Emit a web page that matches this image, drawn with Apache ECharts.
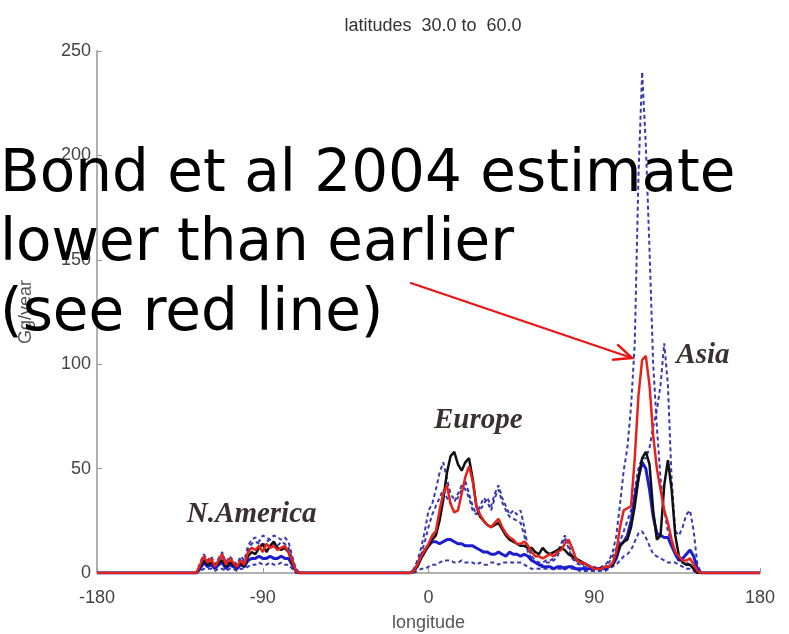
<!DOCTYPE html>
<html><head><meta charset="utf-8">
<script src="https://cdn.jsdelivr.net/npm/echarts@6/dist/echarts.min.js"></script>
<style>html,body{margin:0;padding:0;background:#fff}#c{width:789px;height:634px}</style>
</head><body><div id="c"></div>
<script>
// longitudes sampled (degrees)
const lonNA = [-128,-126,-124,-122,-120,-118,-116,-114,-112,-110,-108,-106,-104,-102,-100,-98,-96,-94,-92,-90,-88,-86,-84,-82,-80,-78,-76,-74,-72,-70,-68,-66];
const lonEA = [-14,-12,-10,-8,-6,-4,-2,0,2,4,6,8,10,12,14,16,18,20,22,24,26,28,30,32,34,36,38,40,42,44,46,48,50,52,54,56,58,60,62,64,66,68,70,72,74,76,78,80,82,84,86,88,90,92,94,96,98,100,102,104,106,108,110,112,114,116,118,120,122,124,126,128,130,132,134,136,138,140,142,144,146,148,150];

const xTicks = [-180, -90, 0, 90, 180];
const yTicks = [0, 50, 100, 150, 200, 250];

// Red (Bond et al 2004)
const redNA = [0,0,4,8,5,7,3,6,9,4, 7,5,3,6,4,10,12,11,13,10, 14,12,13,11,12,13,10,6,1,0, 0,0];
const redEA = [0,0,0,1,4,8,11,14,18,20, 30,38,42,33,29,30,38,46,51,44, 32,28,25,23,22,24,26,22,19,17, 16,14,14,15,13,10,8,8,7,8, 9,8,10,11,14,16,12,7,5,5, 4,3,2,2,2,3,3,5,10,22, 30,31,32,55,85,102,104,90,66,50, 40,30,24,16,10,8,6,6,7,4, 1,0,0];
// Black
const blackNA = [0,0,3,6,4,5,4,5,6,3, 5,4,3,5,3,8,10,9,12,14, 10,13,15,12,11,12,10,5,1,0, 0,0];
const blackEA = [0,0,0,1,3,7,10,13,16,18, 25,35,48,56,58,52,49,53,55,45, 32,27,25,23,22,23,24,21,18,16, 15,14,13,13,12,12,10,9,12,10, 9,10,11,12,11,9,8,7,6,5, 4,3,2,2,2,3,3,4,8,13, 15,16,22,32,45,55,58,52,30,16, 18,42,54,40,18,8,5,4,4,2, 0,0,0];
// Blue solid
const blueNA = [0,0,2,5,3,4,2,4,5,2, 4,3,2,4,3,6,7,7,8,7, 7,8,7,7,8,7,7,4,1,0, 0,0];
const blueEA = [0,0,0,1,4,8,11,13,15,15, 14,15,16,16,15,14,14,13,13,13, 12,11,10,10,9,9,10,9,8,10, 9,9,8,9,8,6,5,4,3,3, 3,2,3,3,2,3,3,2,2,2, 2,2,2,2,2,2,3,4,7,13, 15,18,25,36,46,53,50,40,27,19, 18,17,17,13,9,6,7,9,11,8, 2,0,0];
// Blue dashed (upper)
const dashANA = [0,0,5,9,6,8,4,7,10,5, 8,6,4,8,6,13,16,17,15,18, 17,16,18,17,16,17,15,8,2,0, 0,0];
const dashAEA = [0,0,0,2,6,12,20,30,33,40, 48,53,45,38,35,36,40,44,38,32, 28,30,33,36,32,38,42,36,32,28, 30,28,30,22,12,8,6,5,5,6, 6,7,10,14,18,14,8,6,5,4, 4,3,3,2,3,4,6,10,18,33, 49,60,80,110,190,240,205,155,100,70, 45,30,20,14,10,8,6,5,4,2, 0,0,0];
// Blue dashed (middle)
const dashBNA = [0,0,3,7,5,6,3,5,8,4, 6,5,3,7,5,11,14,15,14,13, 15,16,14,13,15,14,12,7,1,0, 0,0];
const dashBEA = [0,0,0,1,4,9,15,22,28,32, 36,40,36,33,34,38,42,40,36,30, 28,32,36,34,30,36,40,34,30,27, 26,25,24,18,10,7,5,4,4,5, 5,6,8,12,17,12,7,5,4,3, 3,3,2,2,2,3,5,8,12,15, 20,25,30,40,50,55,55,60,70,78, 90,110,90,45,20,18,22,28,30,20, 4,0,0];
// Blue dashed (lower)
const dashCNA = [0,0,1,2,2,2,1,2,2,1, 2,2,1,2,2,3,4,4,5,4, 4,5,4,4,5,4,4,2,0,0, 0,0];
const dashCEA = [0,0,0,0,1,2,2,3,4,4, 5,6,6,6,5,5,6,5,5,5, 4,5,4,4,5,5,4,5,5,5, 5,5,5,4,3,2,2,2,2,2, 2,2,2,2,3,3,2,2,1,1, 1,1,1,1,1,1,2,3,4,6, 8,9,11,15,19,20,17,13,9,8, 7,6,5,5,5,4,3,2,2,1, 0,0,0];

const regionLabels = [
  {text: 'N.America', lon: -96, val: 28},
  {text: 'Europe', lon: 27, val: 73},
  {text: 'Asia', lon: 149, val: 104}
];
const arrowFrom = [-10, 139];
const arrowTo = [110.5, 103];
const overlayLines = ['Bond et al 2004 estimate', 'lower than earlier', '(see red line)'];

function pairs(na, ea) {
  const d = [[-180, 0]];
  lonNA.forEach((x, i) => d.push([x, na[i]]));
  lonEA.forEach((x, i) => d.push([x, ea[i]]));
  d.push([180, 0]);
  return d;
}

const chart = echarts.init(document.getElementById('c'), null, {renderer: 'canvas'});
const dashStyle = {color: '#3a3ab0', width: 2, type: [4, 3]};
const axisCommon = {
  axisLine: {show: true, onZero: false, lineStyle: {color: '#b0b0b0', width: 2}},
  axisTick: {show: true, inside: true, length: 5, lineStyle: {color: '#999'}},
  splitLine: {show: false},
  axisLabel: {color: '#444', fontSize: 18, fontFamily: 'Liberation Sans'},
  nameTextStyle: {color: '#555', fontSize: 18, fontFamily: 'Liberation Sans'}
};
chart.setOption({
  animation: false,
  backgroundColor: '#fff',
  title: {
    text: 'latitudes  30.0 to  60.0', left: 428, top: 12, textAlign: 'center',
    textStyle: {color: '#333', fontSize: 18, fontWeight: 'normal', fontFamily: 'Liberation Sans'}
  },
  grid: {left: 97, right: 29, top: 51, bottom: 61, containLabel: false, outerBoundsMode: 'none'},
  xAxis: Object.assign({
    type: 'value', min: xTicks[0], max: xTicks[xTicks.length - 1], interval: 90,
    name: 'longitude', nameLocation: 'middle', nameGap: 41
  }, axisCommon, {axisLabel: Object.assign({}, axisCommon.axisLabel, {margin: 16})}),
  yAxis: Object.assign({
    type: 'value', min: yTicks[0], max: yTicks[yTicks.length - 1], interval: 50,
    name: 'Gg/year', nameLocation: 'middle', nameGap: 62, nameRotate: 90
  }, axisCommon, {axisLabel: Object.assign({}, axisCommon.axisLabel, {margin: 6})}),
  series: [
    {type: 'line', name: 'dashC', data: pairs(dashCNA, dashCEA), symbol: 'none', lineStyle: dashStyle, z: 2},
    {type: 'line', name: 'dashB', data: pairs(dashBNA, dashBEA), symbol: 'none', lineStyle: dashStyle, z: 2},
    {type: 'line', name: 'dashA', data: pairs(dashANA, dashAEA), symbol: 'none', lineStyle: dashStyle, z: 2},
    {type: 'line', name: 'blue', data: pairs(blueNA, blueEA), symbol: 'none', lineStyle: {color: '#1c1cd2', width: 3}, z: 3},
    {type: 'line', name: 'black', data: pairs(blackNA, blackEA), symbol: 'none', lineStyle: {color: '#111', width: 2.5}, z: 4},
    {type: 'line', name: 'red', data: pairs(redNA, redEA), symbol: 'none', lineStyle: {color: '#e5231d', width: 2.5}, z: 5}
  ]
});

const gfx = [];
regionLabels.forEach(r => {
  const p = chart.convertToPixel({gridIndex: 0}, [r.lon, r.val]);
  gfx.push({type: 'text', x: p[0], y: p[1], z: 10, style: {
    text: r.text, fill: '#3b3030', font: 'italic bold 29px "Liberation Serif"', align: 'center', verticalAlign: 'middle'}});
});
const a0 = chart.convertToPixel({gridIndex: 0}, arrowFrom);
const a1 = chart.convertToPixel({gridIndex: 0}, arrowTo);
const ang = Math.atan2(a1[1] - a0[1], a1[0] - a0[0]);
const hl = 20, ha = 0.42;
gfx.push({type: 'line', z: 20, shape: {x1: a0[0], y1: a0[1], x2: a1[0], y2: a1[1]}, style: {stroke: '#ee1111', lineWidth: 2}});
gfx.push({type: 'polyline', z: 20, shape: {points: [
  [a1[0] - hl * Math.cos(ang - ha), a1[1] - hl * Math.sin(ang - ha)],
  [a1[0], a1[1]],
  [a1[0] - hl * Math.cos(ang + ha), a1[1] - hl * Math.sin(ang + ha)]
]}, style: {stroke: '#ee1111', lineWidth: 2.5, fill: null}});
const lineY = [176, 245, 315];
overlayLines.forEach((t, i) => {
  gfx.push({type: 'text', x: 0, y: lineY[i], z: 30, style: {
    text: t, fill: '#000', font: '58px "Comic Sans MS", "DejaVu Sans"', align: 'left', verticalAlign: 'middle'}});
});
chart.setOption({graphic: gfx});
</script>
</body></html>
